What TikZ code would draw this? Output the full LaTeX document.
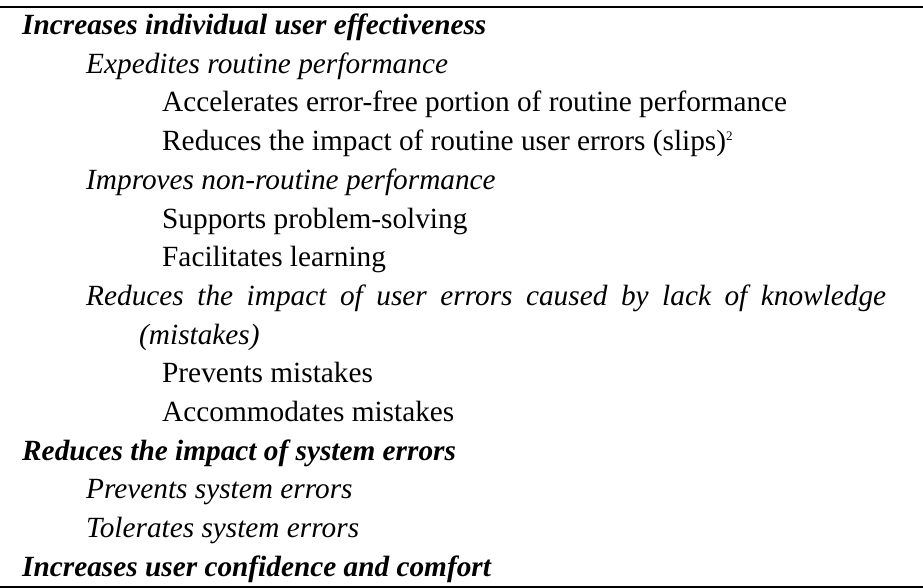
\documentclass[tikz,border=0pt]{standalone}
\usepackage{fontspec}
\setmainfont{Liberation Serif}
\begin{document}
\begin{tikzpicture}[x=1pt,y=1pt,
  entry/.style={anchor=base west,inner sep=0pt,font=\fontsize{29.3}{38.4}\selectfont},
  head/.style={entry,font=\fontsize{29.3}{38.4}\selectfont\bfseries\itshape},
  sub/.style={entry,font=\fontsize{29.3}{38.4}\selectfont\itshape},
  rulebar/.style={line width=2pt}]
\useasboundingbox (0,0) rectangle (923,-588);
% indentation levels
\def\lz{22}\def\lo{86}\def\lt{162}\def\lh{139}
\draw[rulebar] (0,-7) coordinate (tl) -- (923,-7) coordinate (tr);
\draw[rulebar] (0,-587) coordinate (bl) -- (923,-587) coordinate (br);
\node[head] (h1) at (\lz,-34.5) {Increases individual user effectiveness};
\node[sub] (s11) at (\lo,-73.2) {Expedites routine performance};
\node[entry] (t111) at (\lt,-111.9) {Accelerates error-free portion of routine performance};
\node[entry] (t112) at (\lt,-150.6) {Reduces the impact of routine user errors (slips)\raisebox{10pt}{\fontsize{13}{13}\selectfont 2}};
\node[sub] (s12) at (\lo,-189.3) {Improves non-routine performance};
\node[entry] (t121) at (\lt,-228.0) {Supports problem-solving};
\node[entry] (t122) at (\lt,-266.7) {Facilitates learning};
\node[sub] (s13) at (\lo,-305.4) {\makebox[800pt][s]{Reduces the impact of user errors caused by lack of knowledge}};
\node[sub] (s13b) at (\lh,-344.1) {(mistakes)};
\node[entry] (t131) at (\lt,-382.8) {Prevents mistakes};
\node[entry] (t132) at (\lt,-421.5) {Accommodates mistakes};
\node[head] (h2) at (\lz,-460.2) {Reduces the impact of system errors};
\node[sub] (s21) at (\lo,-498.9) {Prevents system errors};
\node[sub] (s22) at (\lo,-537.6) {Tolerates system errors};
\node[head] (h3) at (\lz,-576.3) {Increases user confidence and comfort};
\end{tikzpicture}
\end{document}
